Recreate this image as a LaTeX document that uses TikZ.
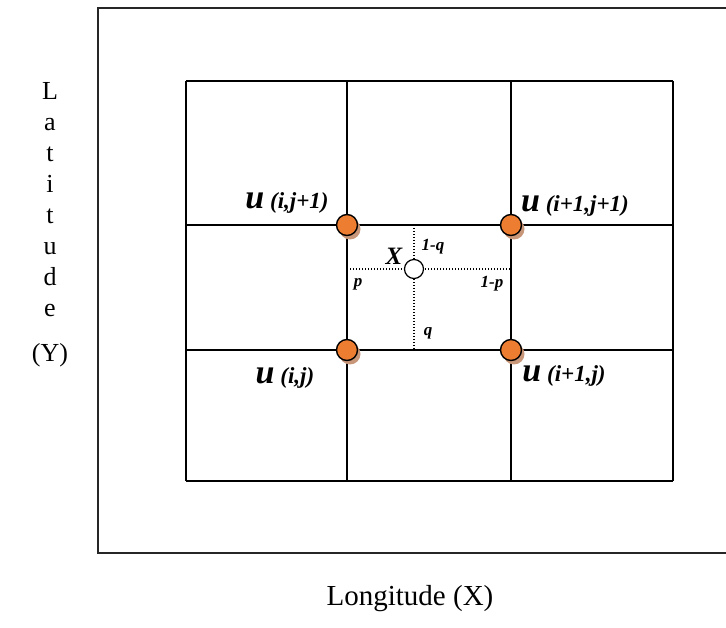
\documentclass[tikz,border=0pt]{standalone}
\usepackage{fontspec}
\setmainfont{Liberation Serif}
\definecolor{dotorange}{RGB}{237,125,49}
\definecolor{dotshadow}{RGB}{200,150,120}
\tikzset{
  x=1pt, y=-1pt,
  frame/.style={line width=1.5pt, black!85},
  gridline/.style={line width=1.4pt, black},
  dotline/.style={line width=1.3pt, dash pattern=on 1.3pt off 1.7pt, black},
  gpt/.style={circle, draw=black, line width=1.4pt, fill=dotorange, minimum size=21pt, inner sep=0pt},
  gshadow/.style={circle, fill=dotshadow, minimum size=21pt, inner sep=0pt},
  xpt/.style={circle, draw=black, line width=1.2pt, fill=white, minimum size=19pt, inner sep=0pt},
  ulabel/.style={inner sep=0pt, font=\bfseries\itshape\fontsize{23}{25}\selectfont},
  small/.style={inner sep=0pt, font=\bfseries\itshape\fontsize{17}{19}\selectfont},
  axis/.style={inner sep=0pt, font=\fontsize{26}{31}\selectfont, align=center}
}
\newcommand{\uu}{{\fontsize{34}{34}\selectfont u}}
\begin{document}
\begin{tikzpicture}
\useasboundingbox (0,0) rectangle (726,628);
% outer frame (open to the right)
\draw[frame] (726,8) -- (98,8) -- (98,553) -- (726,553);
% grid
\foreach \xx in {186,347,511,673} \draw[gridline] (\xx,81) -- (\xx,481);
\foreach \yy in {81,225,350,481} \draw[gridline] (186,\yy) -- (673,\yy);
% dotted cross
\coordinate (xt) at (414,225);
\coordinate (xb) at (414,350);
\coordinate (xl) at (347,269);
\coordinate (xr) at (511,269);
\draw[dotline] (xt) -- (xb);
\draw[dotline] (xl) -- (xr);
% grid points
\foreach \n/\px/\py in {a/347/225, b/511/225, c/347/350, d/511/350} {
  \node[gshadow] at (\px+3,\py+4) {};
  \node[gpt] (\n) at (\px,\py) {};
}
\node[xpt] (X) at (414,269) {};
% labels
\node[ulabel] (la) at (287,203) {\uu\ (i,j+1)};
\node[ulabel] (lb) at (575,206) {\uu\ (i+1,j+1)};
\node[ulabel] (lc) at (285,378) {\uu\ (i,j)};
\node[ulabel] (ld) at (564,376) {\uu\ (i+1,j)};
\node[inner sep=0pt, font=\bfseries\itshape\fontsize{25}{25}\selectfont] (xl2) at (394,256) {X};
\node[small] (q1) at (433,247) {1-q};
\node[small] (pp) at (358,284) {p};
\node[small] (p1) at (492,284) {1-p};
\node[small] (qq) at (428,333) {q};
% axis labels
\node[axis, anchor=north] (lat) at (50,82) {L\\a\\t\\i\\t\\u\\d\\e\\[14pt](Y)};
\node[inner sep=0pt, font=\fontsize{29}{29}\selectfont] (lon) at (410,599) {Longitude (X)};
\end{tikzpicture}
\end{document}
